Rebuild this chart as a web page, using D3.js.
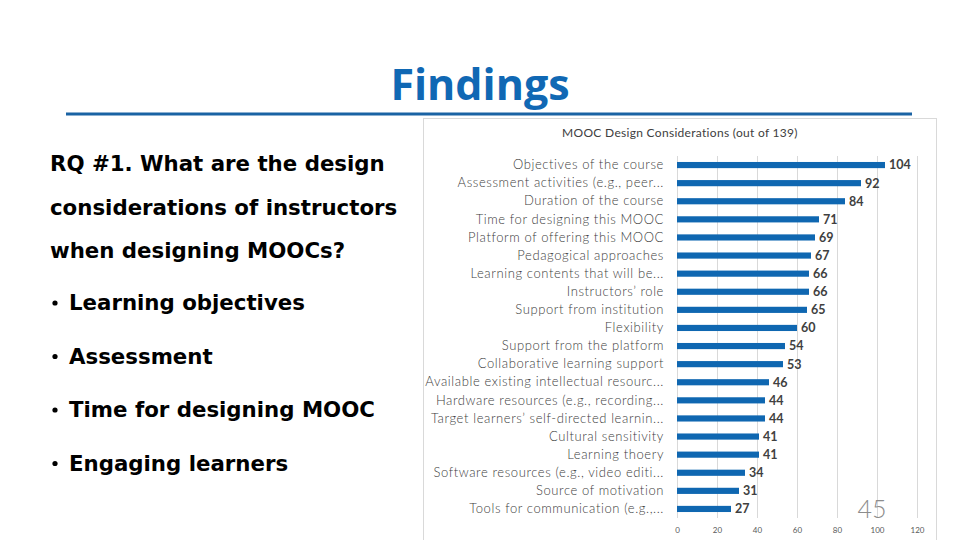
<!DOCTYPE html>
<html><head><meta charset="utf-8">
<script src="https://cdn.jsdelivr.net/npm/d3@7"></script>
<style>body{margin:0;background:#fff;}svg{display:block;}</style>
</head><body>
<svg id="c" width="960" height="540"></svg>
<script>
const categories = [
  "Objectives of the course",
  "Assessment activities (e.g., peer...",
  "Duration of the course",
  "Time for designing this MOOC",
  "Platform of offering this MOOC",
  "Pedagogical approaches",
  "Learning contents that will be...",
  "Instructors\u2019 role",
  "Support from institution",
  "Flexibility",
  "Support from the platform",
  "Collaborative learning support",
  "Available existing intellectual resourc...",
  "Hardware resources (e.g., recording...",
  "Target learners\u2019 self-directed learnin...",
  "Cultural sensitivity",
  "Learning thoery",
  "Software resources (e.g., video editi...",
  "Source of motivation",
  "Tools for communication (e.g.,..."
];
const values = [104, 92, 84, 71, 69, 67, 66, 66, 65, 60, 54, 53, 46, 44, 44, 41, 41, 34, 31, 27];
const xTicks = [0, 20, 40, 60, 80, 100, 120];
const bullets = ["Learning objectives", "Assessment", "Time for designing MOOC", "Engaging learners"];
const questionLines = ["RQ #1. What are the design", "considerations of instructors", "when designing MOOCs?"];

const svg = d3.select("#c");

// Title
svg.append("text").attr("x", 480).attr("y", 100).attr("text-anchor", "middle")
  .style("font-family", "'Open Sans', 'DejaVu Sans', sans-serif").style("font-weight", 700)
  .style("font-size", "43px").attr("fill", "#1068b4").text("Findings");
svg.append("line").attr("x1", 66).attr("x2", 912).attr("y1", 114).attr("y2", 114)
  .attr("stroke", "#1a63a4").attr("stroke-width", 3);

// Left text
const lt = svg.append("g").style("font-family", "'DejaVu Sans', Verdana, sans-serif")
  .style("font-weight", 700).style("font-size", "21.3px").attr("fill", "#000");
questionLines.forEach((t, i) => {
  lt.append("text").attr("x", 50).attr("y", 171 + i * 43.5).text(t);
});
bullets.forEach((t, i) => {
  const y = 310 + i * 53.5;
  lt.append("circle").attr("cx", 55).attr("cy", y - 7).attr("r", 2.6).attr("fill", "#000");
  lt.append("text").attr("x", 69).attr("y", y).text(t);
});

// Chart box
svg.append("rect").attr("x", 423.5).attr("y", 118.5).attr("width", 513).attr("height", 430)
  .attr("fill", "#fff").attr("stroke", "#d9d9d9");

svg.append("text").attr("x", 680).attr("y", 137).attr("text-anchor", "middle")
  .style("font-family", "Lato, 'Open Sans', sans-serif").style("font-size", "12px")
  .style("letter-spacing", "0.3px")
  .attr("fill", "#404040").text("MOOC Design Considerations (out of 139)");

const x = d3.scaleLinear().domain([0, 120]).range([677, 917]);
const y = d3.scaleBand().domain(categories).range([156, 518]).paddingInner(0.66).paddingOuter(0.33);

// gridlines
svg.append("g").selectAll("line").data(xTicks.slice(1)).join("line")
  .attr("x1", d => x(d) + 0.5).attr("x2", d => x(d) + 0.5).attr("y1", 156).attr("y2", 518)
  .attr("stroke", "#d9d9d9").attr("stroke-width", 1);

// x axis
const xAxis = svg.append("g").attr("transform", "translate(0,521)")
  .call(d3.axisBottom(x).tickValues(xTicks).tickSize(0).tickPadding(6));
xAxis.select(".domain").remove();
xAxis.selectAll("text").style("font-family", "Lato, sans-serif").style("font-size", "8px").attr("fill", "#595959");

// y axis line
svg.append("line").attr("x1", 677.5).attr("x2", 677.5).attr("y1", 156).attr("y2", 518)
  .attr("stroke", "#d9d9d9");

// y labels
const yAxis = svg.append("g").attr("transform", "translate(677,0)")
  .call(d3.axisLeft(y).tickSize(0).tickPadding(13));
yAxis.select(".domain").remove();
yAxis.selectAll("text").style("font-family", "Lato, sans-serif").style("font-size", "13px")
  .style("font-weight", 300).style("letter-spacing", "0.6px").attr("fill", "#404040");

// bars
svg.append("g").selectAll("rect").data(values).join("rect")
  .attr("x", x(0)).attr("y", (d, i) => y(categories[i]))
  .attr("width", d => x(d) - x(0)).attr("height", y.bandwidth()).attr("fill", "#0f67b1");

// value labels
svg.append("g").selectAll("text").data(values).join("text")
  .attr("x", d => x(d) + 4).attr("y", (d, i) => y(categories[i]) + y.bandwidth() / 2)
  .attr("dy", "0.35em")
  .style("font-family", "Lato, sans-serif").style("font-size", "12.5px").style("font-weight", 700)
  .attr("fill", "#404040").text(d => d);

// page number
svg.append("text").attr("x", 872).attr("y", 518).attr("text-anchor", "middle")
  .style("font-family", "Lato, sans-serif").style("font-size", "25px").style("font-weight", 300)
  .attr("fill", "#8c8c8c").text("45");
</script>
</body></html>
